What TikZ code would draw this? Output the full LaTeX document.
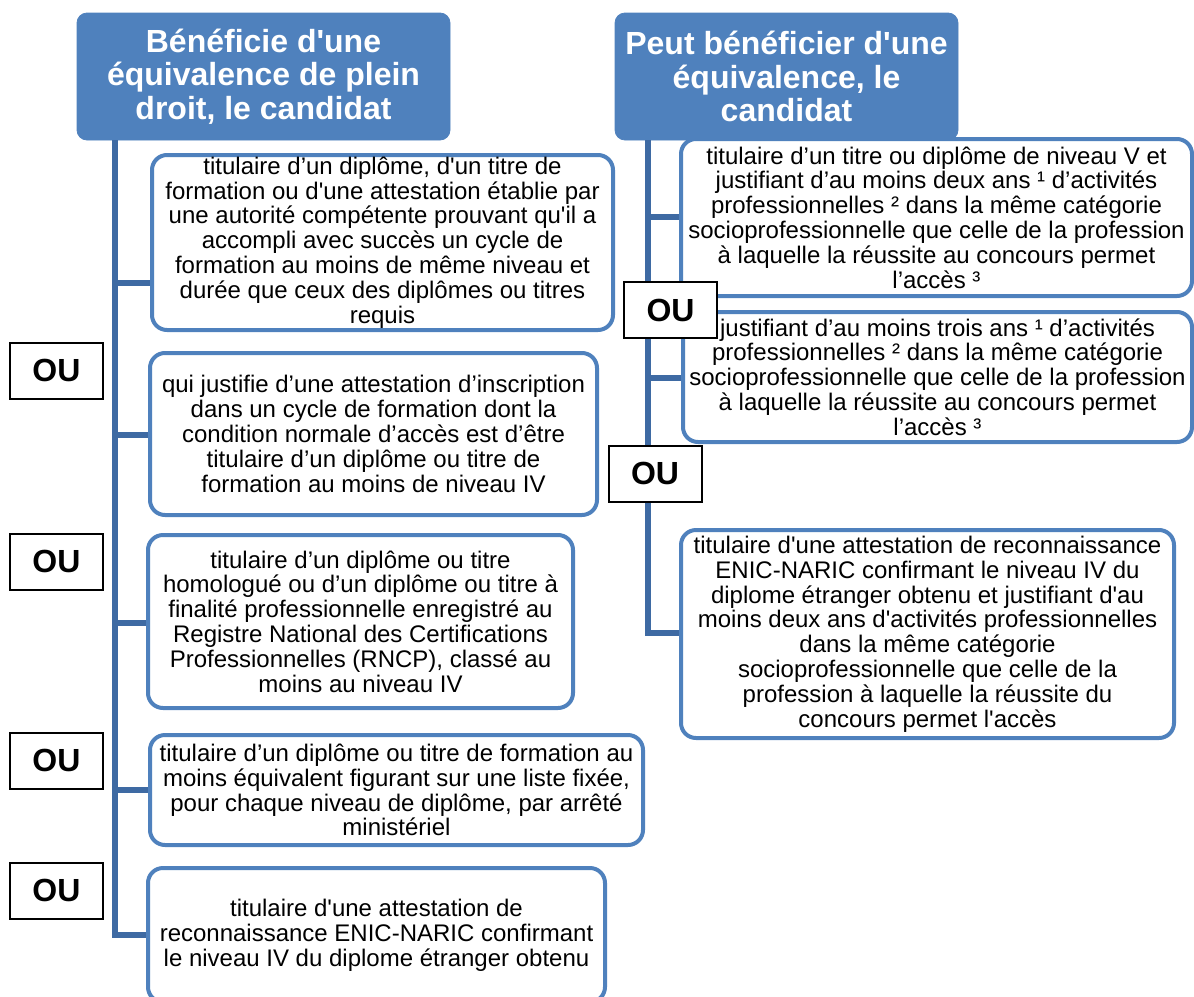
\documentclass[tikz,border=0pt]{standalone}
\usepackage{fontspec}
\setmainfont{Liberation Sans}[Ligatures=TeXOff]
\usetikzlibrary{positioning}
\definecolor{bleuentete}{RGB}{79,129,189}
\definecolor{bleucadre}{RGB}{79,129,189}
\definecolor{bleutronc}{RGB}{62,106,163}

\begin{document}
\begin{tikzpicture}[
    x=0.5pt, y=-0.5pt,
    % Styles des noeuds
    entete/.style={
        rectangle, fill=bleuentete, draw=bleuentete,
        rounded corners=5pt, inner sep=0pt,
        text=white, align=center,
        font=\fontsize{16}{16.8}\selectfont\bfseries
    },
    critere/.style={
        rectangle, draw=bleucadre, fill=white, line width=2pt,
        rounded corners=7.5pt, inner sep=0pt, align=center,
        font=\fontsize{12}{12.4}\selectfont
    },
    ou/.style={
        rectangle, draw=black, fill=white, line width=1pt,
        minimum width=46.5pt, minimum height=28pt,
        font=\fontsize{16}{17}\selectfont\bfseries
    },
    branche/.style={draw=bleutronc, line width=3pt}
]

\clip (0,0) rectangle (1194,996);

% En-tetes
\node[entete, minimum width=186.5pt, minimum height=63.5pt] (hdrL) at (263.5,76.5)
    {Bénéficie d'une\\équivalence de plein\\droit, le candidat};
\node[entete, minimum width=171.5pt, minimum height=63.5pt] (hdrR) at (786.5,76.5)
    {Peut bénéficier d'une\\équivalence, le\\candidat};

% Criteres de plein droit
\node[critere, minimum width=230.5pt, minimum height=87.5pt] (b1) at (382.5,242.5)
    {titulaire d’un diplôme, d'un titre de\\formation ou d'une attestation établie par\\une autorité compétente prouvant qu'il a\\accompli avec succès un cycle de\\formation au moins de même niveau et\\durée que ceux des diplômes ou titres\\requis};
\node[critere, minimum width=223.5pt, minimum height=81pt] (b2) at (373.5,434)
    {qui justifie d’une attestation d’inscription\\dans un cycle de formation dont la\\condition normale d’accès est d’être\\titulaire d’un diplôme ou titre de\\formation au moins de niveau IV};
\node[critere, minimum width=212.5pt, minimum height=86.5pt] (b3) at (360.5,621.5)
    {titulaire d’un diplôme ou titre\\homologué ou d’un diplôme ou titre à\\finalité professionnelle enregistré au\\Registre National des Certifications\\Professionnelles (RNCP), classé au\\moins au niveau IV};
\node[critere, minimum width=246.5pt, minimum height=55pt] (b4) at (396.5,790)
    {titulaire d’un diplôme ou titre de formation au\\moins équivalent figurant sur une liste fixée,\\pour chaque niveau de diplôme, par arrêté\\ministériel};
\node[critere, minimum width=228.5pt, minimum height=67pt] (b5) at (376.5,935)
    {titulaire d'une attestation de\\reconnaissance ENIC-NARIC confirmant\\le niveau IV du diplome étranger obtenu};

% Criteres d'equivalence possible
\node[critere, minimum width=255.5pt, minimum height=78.5pt] (rA) at (936.5,217.5)
    {titulaire d’un titre ou diplôme de niveau V et\\justifiant d’au moins deux ans ¹ d’activités\\professionnelles ² dans la même catégorie\\socioprofessionnelle que celle de la profession\\à laquelle la réussite au concours permet\\l’accès ³};
\node[critere, minimum width=254.5pt, minimum height=65pt] (rB) at (937.5,377)
    {justifiant d’au moins trois ans ¹ d’activités\\professionnelles ² dans la même catégorie\\socioprofessionnelle que celle de la profession\\à laquelle la réussite au concours permet\\l’accès ³};
\node[critere, minimum width=246.5pt, minimum height=104pt] (rC) at (927.5,634)
    {titulaire d'une attestation de reconnaissance\\ENIC-NARIC confirmant le niveau IV du\\diplome étranger obtenu et justifiant d'au\\moins deux ans d'activités professionnelles\\dans la même catégorie\\socioprofessionnelle que celle de la\\profession à laquelle la réussite du\\concours permet l'accès};

% Points du tronc
\coordinate (j1) at (115,283);
\coordinate (j2) at (115,435);
\coordinate (j3) at (115,623);
\coordinate (j4) at (115,790);
\coordinate (j5) at (115,935);
\coordinate (k1) at (648,217);
\coordinate (k2) at (648,378);
\coordinate (k3) at (648,633);

% Tronc gauche
\draw[branche] (hdrL.south -| j1) -- (j5) -- (b5.west |- j5);
\foreach \j/\b in {j1/b1, j2/b2, j3/b3, j4/b4}
    \draw[branche] (\j) -- (\b.west |- \j);

% Tronc droit
\draw[branche] (hdrR.south -| k1) -- (k3) -- (rC.west |- k3);
\foreach \k/\b in {k1/rA, k2/rB}
    \draw[branche] (\k) -- (\b.west |- \k);

% Cases OU
\node[ou] (ouL1) at (56.5,370.5) {OU};
\node[ou] (ouL2) at (56.5,561.5) {OU};
\node[ou] (ouL3) at (56.5,760.5) {OU};
\node[ou] (ouL4) at (56.5,890.5) {OU};
\node[ou] (ouR1) at (670.5,310) {OU};
\node[ou] (ouR2) at (655,473.5) {OU};

\end{tikzpicture}
\end{document}
